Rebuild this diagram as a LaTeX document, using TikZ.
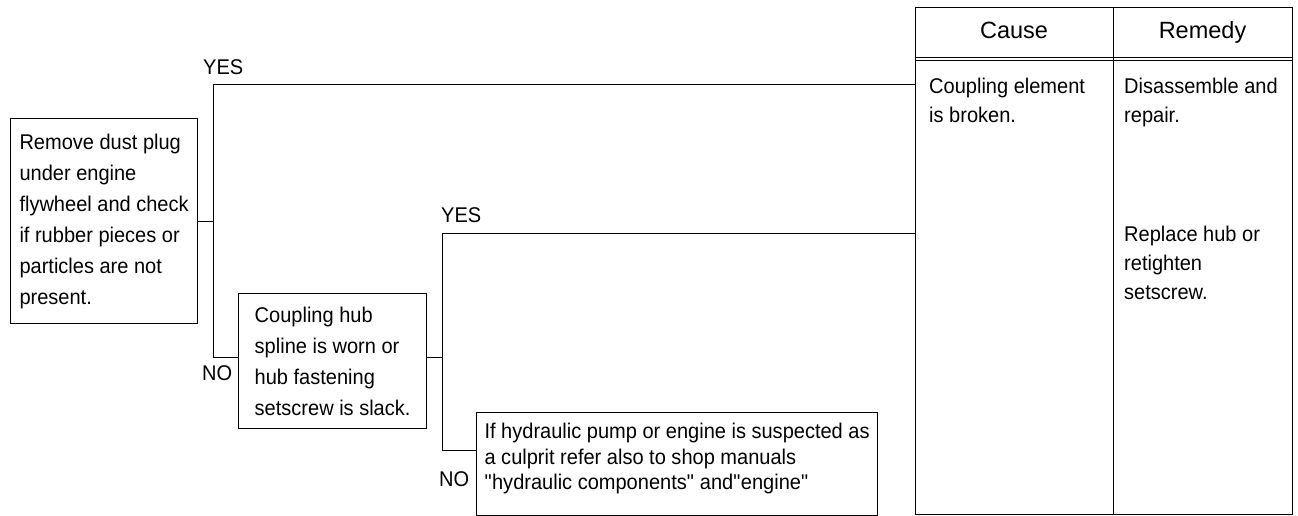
\documentclass[tikz,border=0pt]{standalone}
\usepackage{fontspec}
\setmainfont[FakeStretch=0.94]{Liberation Sans}
\newfontfamily\headfont{Liberation Sans}
\usepackage{tikz}
\usetikzlibrary{positioning}

\begin{document}
\begin{tikzpicture}[
    x=1pt, y=-1pt,
    box/.style={draw,line width=1.2pt,anchor=north west,align=left,inner sep=0pt,font=\fontsize{21.3}{31}\selectfont},
    lbl/.style={inner sep=0pt,anchor=base west,font=\fontsize{21.3}{26}\selectfont},
    cell/.style={inner sep=0pt,anchor=north west,align=left,font=\fontsize{21.3}{29}\selectfont},
    head/.style={inner sep=0pt,anchor=base,font=\headfont\fontsize{23.5}{28}\selectfont},
    link/.style={line width=0.9pt},
    rule/.style={line width=0.9pt}
]
    \useasboundingbox (0,0) rectangle (1298,516);

    \node[box,minimum width=187pt,minimum height=205pt] (check) at (10,118)
        {Remove dust plug\\under engine\\flywheel and check\\if rubber pieces or\\particles are not\\present.};
    \node[box,minimum width=188pt,minimum height=135pt] (hub) at (238,293)
        {Coupling hub\\spline is worn or\\hub fastening\\setscrew is slack.};
    \node[box,minimum width=401pt,minimum height=103pt,text depth=15.5pt,
        font=\fontsize{21.3}{25.5}\selectfont] (culprit) at (476,412)
        {If hydraulic pump or engine is suspected as\\a culprit refer also to shop manuals\\\textquotedbl hydraulic components\textquotedbl\ and\textquotedbl engine\textquotedbl};

    \node[draw,line width=1.3pt,inner sep=0pt,anchor=north west,minimum width=377pt,minimum height=507pt] (table) at (915,7) {};
    \coordinate (split) at (1113,0);
    \coordinate (hdrA) at (0,57.3);
    \coordinate (hdrB) at (0,60.7);
    \draw[rule] (split |- table.north) -- (split |- table.south);
    \draw[rule] (table.west |- hdrA) -- (table.east |- hdrA);
    \draw[rule] (table.west |- hdrB) -- (table.east |- hdrB);

    \node[head] (causehd) at (1014,39) {Cause};
    \node[head] (remedyhd) at (1202.5,39) {Remedy};
    \node[cell] (broken) at (929,77.6) {Coupling element\\is broken.};
    \node[cell] (repair) at (1124,77.6) {Disassemble and\\repair.};
    \node[cell,below=99pt of repair.south west,anchor=north west] (retighten) {Replace hub or\\retighten\\setscrew.};

    \coordinate (yes1) at (213,84);
    \coordinate (no1) at (213,357);
    \coordinate (yes2) at (442,233);
    \coordinate (no2) at (442,450);

    \node[lbl] (yesA) at (203,75) {YES};
    \node[lbl] (noA) at (202,380.5) {NO};
    \node[lbl] (yesB) at (441,222) {YES};
    \node[lbl] (noB) at (439,486.5) {NO};

    \draw[link] (check.east) -- (check.east -| yes1);
    \draw[link] (table.west |- yes1) -- (yes1) -- (no1) -- (hub.west |- no1);
    \draw[link] (hub.east |- no1) -- (yes2 |- no1);
    \draw[link] (table.west |- yes2) -- (yes2) -- (no2) -- (culprit.west |- no2);
\end{tikzpicture}
\end{document}
